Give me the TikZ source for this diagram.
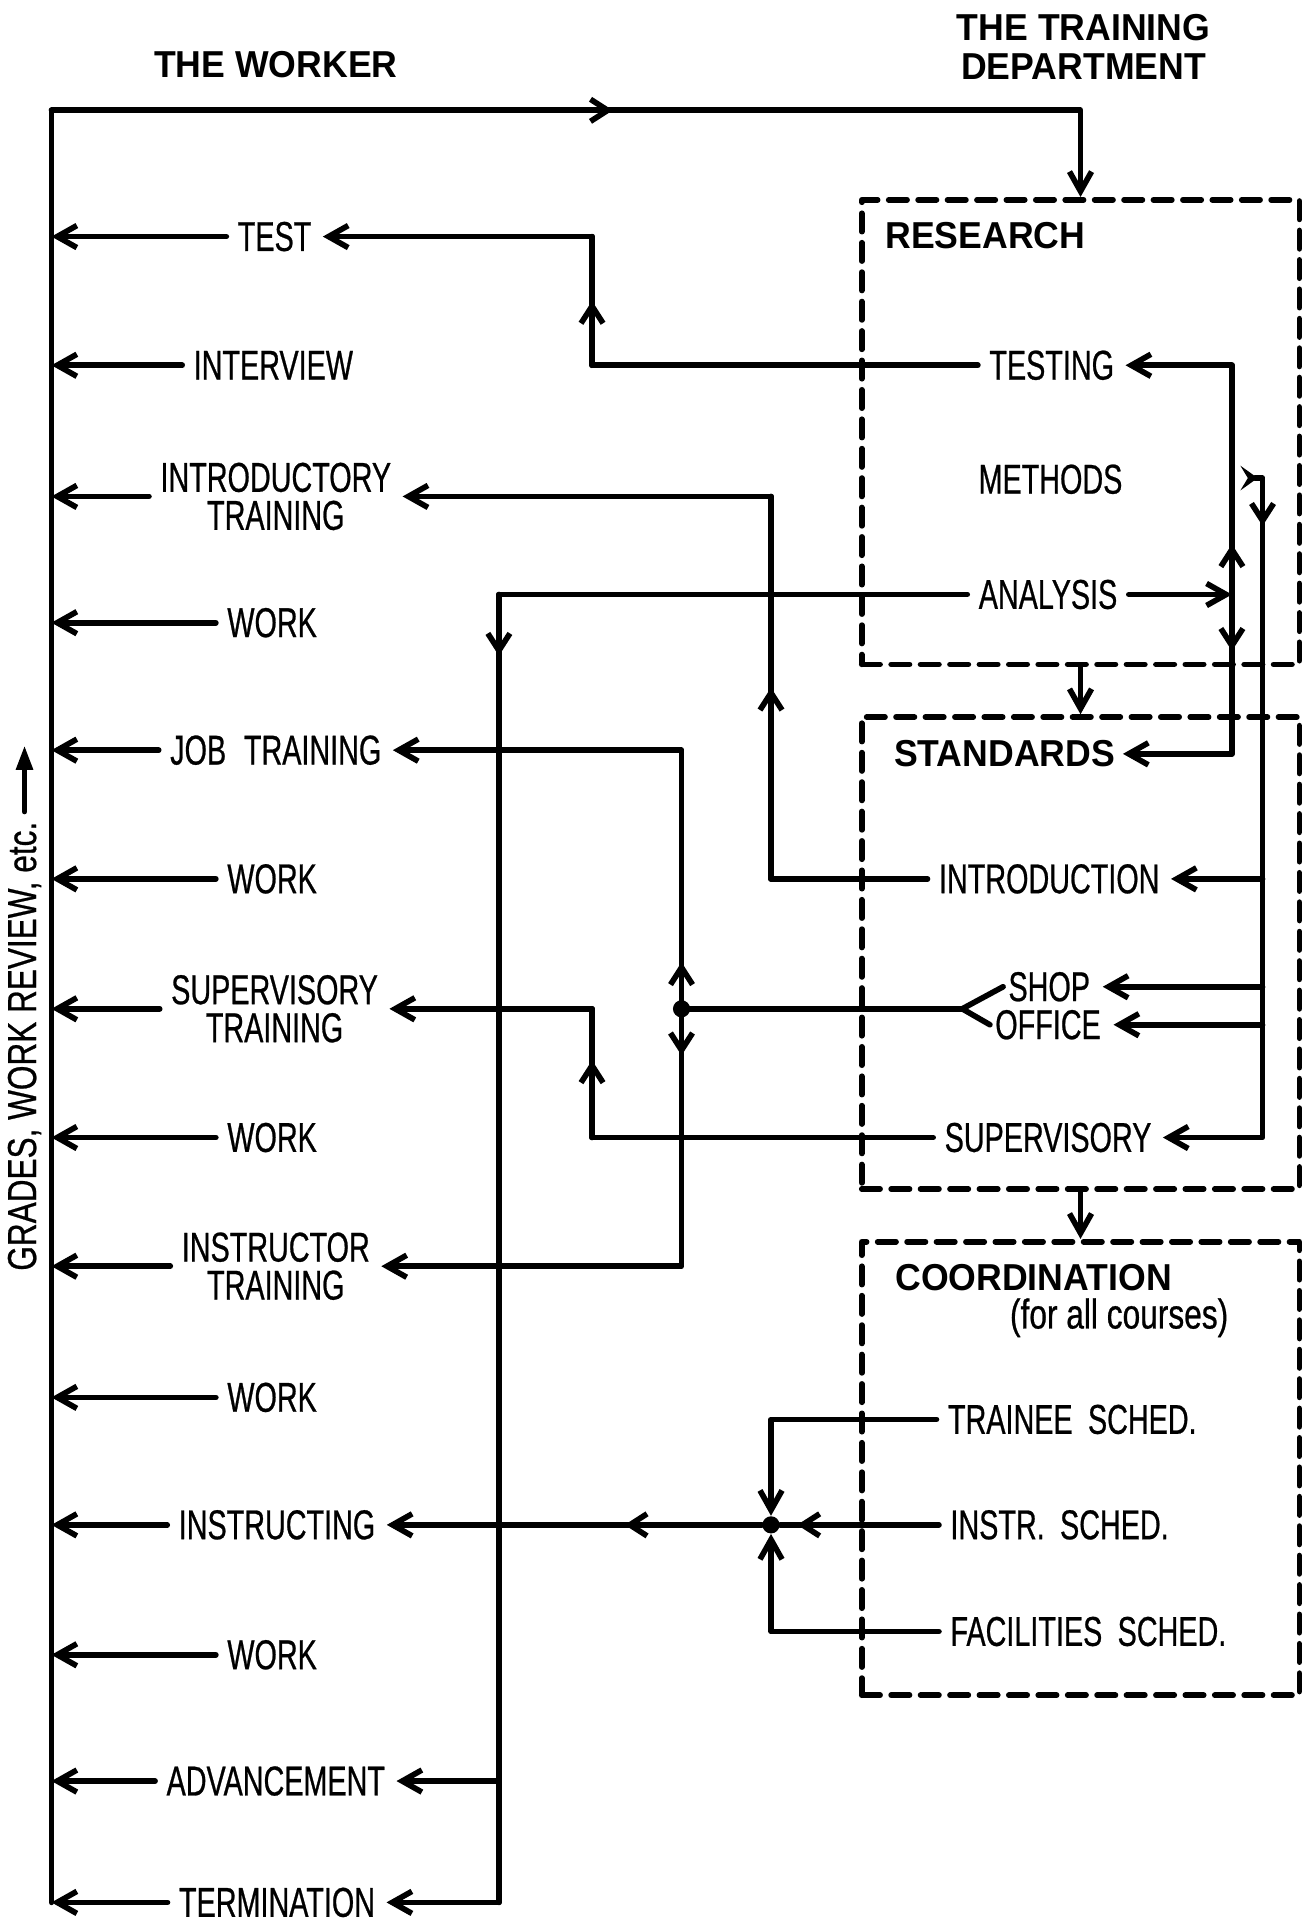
\documentclass[tikz,border=0pt]{standalone}
\usepackage{fontspec}
\setmainfont{Liberation Sans}
\newfontfamily\condf[FakeStretch=0.69,FakeBold=0.6]{Liberation Sans}
\newfontfamily\headf[FakeStretch=0.95]{Liberation Sans}
\newfontfamily\gradef[FakeStretch=0.78,FakeBold=0.6]{Liberation Sans}
\newfontfamily\notef[FakeStretch=0.76,FakeBold=0.6]{Liberation Sans}
\usetikzlibrary{arrows.meta,decorations.markings}
\begin{document}
\begin{tikzpicture}[x=0.5pt,y=-0.5pt,line cap=round,line join=round,
  conn/.style={line width=2.3pt},
  arr/.style={conn,-{Straight Barb[length=8pt,width=9pt]}},
  tipat/.style={postaction={decorate,decoration={markings,mark=at position #1 with {\arrow{Straight Barb[length=7pt,width=9pt]}}}}},
  lbl/.style={font=\condf\fontsize{17}{15.5}\selectfont,inner xsep=4.5pt,inner ysep=1pt},
  lbl2/.style={lbl,align=center},
  head/.style={font=\headf\bfseries\fontsize{15.3}{16}\selectfont,inner sep=0pt},
  dbox/.style={draw,line width=2.3pt,dash pattern=on 7.5pt off 4.5pt,inner sep=0pt,minimum width=178.5pt},
  dotn/.style={circle,fill,inner sep=0pt,minimum size=7pt}]
\useasboundingbox (0,0) rectangle (1072,1568);

% titles
\node[head] (worker) at (225,53) {THE WORKER};
\node[head,align=center] (dept) at (884,38) {THE TRAINING\\DEPARTMENT};

% worker column
\node[lbl] (test) at (224,193) {TEST};
\node[lbl] (interview) at (223,298) {INTERVIEW};
\node[lbl2] (introtr) at (225,405) {INTRODUCTORY\\TRAINING};
\node[lbl] (work1) at (222,508) {WORK};
\node[lbl] (jobtr) at (225,612) {JOB\hspace{4pt} TRAINING};
\node[lbl] (work2) at (222,717) {WORK};
\node[lbl2] (suptr) at (224,823) {SUPERVISORY\\TRAINING};
\node[lbl] (work3) at (222,928) {WORK};
\node[lbl2] (insttr) at (225,1033) {INSTRUCTOR\\TRAINING};
\node[lbl] (work4) at (222,1140) {WORK};
\node[lbl] (instructing) at (226,1244) {INSTRUCTING};
\node[lbl] (work5) at (222,1350) {WORK};
\node[lbl] (advancement) at (225,1453) {ADVANCEMENT};
\node[lbl] (termination) at (226,1552) {TERMINATION};

\coordinate (spineTop) at (42,90);
\coordinate (spineBot) at (42,1552);
\foreach \n in {test,interview,introtr,work1,jobtr,work2,suptr,work3,insttr,work4,instructing,work5,advancement,termination}
  \draw[arr] (\n.west) -- (\n.west -| spineTop);

% grades label
\node[font=\gradef\fontsize{16.5}{17}\selectfont,rotate=90,anchor=west,inner xsep=4pt,inner ysep=0pt] (grades) at (20,1045) {GRADES, WORK REVIEW, etc.};
\coordinate (gradesTip) at (20,608);
\draw[line width=2.3pt,-{Triangle[length=10pt,width=6.5pt]}] (grades.east) -- (gradesTip);

% boxes
\node[dbox,minimum height=189.5pt] (research) at (881.5,352.5) {};
\node[dbox,minimum height=192.5pt] (standards) at (881.5,777.5) {};
\node[dbox,minimum height=185pt] (coord) at (881.5,1198) {};

\node[head,anchor=west] (researchT) at (722,192) {RESEARCH};
\node[head,anchor=west] (standardsT) at (729,615) {STANDARDS};
\node[head,anchor=west] (coordT) at (730,1042) {COORDINATION};
\node[font=\notef\fontsize{17}{18}\selectfont,inner sep=0pt] (forall) at (913,1075) {(for all courses)};

\node[lbl] (testing) at (858,298) {TESTING};
\node[lbl] (methods) at (857,391) {METHODS};
\node[lbl] (analysis) at (855,485) {ANALYSIS};

\node[lbl] (intro) at (856,717) {INTRODUCTION};
\node[lbl,inner xsep=2pt] (shop) at (856,805) {SHOP};
\node[lbl,inner xsep=2pt] (office) at (855,836) {OFFICE};
\node[lbl] (superv) at (855,928) {SUPERVISORY};

\node[lbl,anchor=west] (trainee) at (764,1158) {TRAINEE\hspace{3pt} SCHED.};
\node[lbl,anchor=west] (instr) at (766,1244) {INSTR.\hspace{3pt} SCHED.};
\node[lbl,anchor=west] (facil) at (766,1331) {FACILITIES\hspace{3pt} SCHED.};

% columns
\coordinate (tCol) at (483,0);
\coordinate (iCol) at (629,0);
\coordinate (aCol) at (407,0);
\coordinate (jCol) at (556,0);
\coordinate (rCol) at (1005,0);
\coordinate (mCol) at (1030,0);
\coordinate (mstub) at (1012,390);
\coordinate (fk) at (785,823);
\node[dotn] (dot1) at (556,823) {};
\node[dotn] (dot2) at (629,1244) {};

% top loop
\draw[conn] (spineBot) -- (spineTop);
\draw[arr,tipat=229pt] (spineTop) -| (research.north);

% testing -> test
\draw[arr] (testing.west) -- (testing.west -| tCol) -- (test.east -| tCol) -- (test.east);
\draw[conn,tipat=0.5] (testing.west -| tCol) -- (test.east -| tCol);

% introduction -> introductory training
\draw[arr] (intro.west) -- (intro.west -| iCol) -- (introtr.east -| iCol) -- (introtr.east);
\draw[conn,tipat=0.5] (intro.west -| iCol) -- (introtr.east -| iCol);

% analysis -> advancement / termination
\draw[arr] (analysis.west) -- (analysis.west -| aCol) -- (termination.east -| aCol) -- (termination.east);
\draw[conn,tipat=25pt] (analysis.west -| aCol) -- (termination.east -| aCol);
\draw[arr] (advancement.east -| aCol) -- (advancement.east);

% shop / office -> job & instructor training
\draw[conn] (shop.west) -- (fk) -- (office.west);
\draw[conn] (fk) -- (dot1.center);
\draw[arr,tipat=19pt] (dot1.center) -- (jobtr.east -| jCol) -- (jobtr.east);
\draw[arr,tipat=19pt] (dot1.center) -- (insttr.east -| jCol) -- (insttr.east);

% supervisory -> supervisory training
\draw[arr] (superv.west) -- (superv.west -| tCol) -- (suptr.east -| tCol) -- (suptr.east);
\draw[conn,tipat=0.6] (superv.west -| tCol) -- (suptr.east -| tCol);

% analysis -> testing / standards
\draw[arr] (analysis.east) -- (analysis.east -| rCol);
\draw[arr,tipat=20.5pt] (analysis.east -| rCol) -- (testing.east -| rCol) -- (testing.east);
\draw[arr,tipat=23pt] (analysis.east -| rCol) -- (standardsT.east -| rCol) -- ([xshift=3pt]standardsT.east);

% methods -> standards items
\draw[conn,{Stealth[reversed,length=7pt,width=10pt,inset=3pt]}-{Straight Barb[length=8pt,width=9pt]},tipat=28.5pt] (mstub) -- (mstub -| mCol) -- (superv.east -| mCol) -- (superv.east);
\draw[arr] (intro.east -| mCol) -- (intro.east);
\draw[arr] (shop.east -| mCol) -- ([xshift=3pt]shop.east);
\draw[arr] (office.east -| mCol) -- ([xshift=3pt]office.east);

% box to box
\draw[arr] (research.south) -- (standards.north);
\draw[arr] (standards.south) -- (coord.north);

% coordination schedules
\draw[arr] (trainee.west) -| (dot2);
\draw[arr] (facil.west) -| (dot2);
\draw[conn,tipat=-7pt] (instr.west) -- (dot2);
\draw[arr,tipat=56pt] (dot2) -- (instructing.east);
\end{tikzpicture}
\end{document}
